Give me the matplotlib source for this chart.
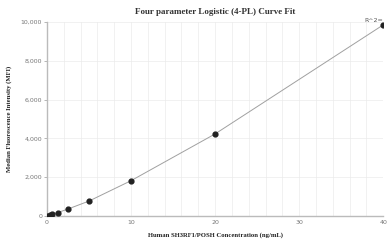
import numpy as np
import matplotlib
matplotlib.use('Agg')
import matplotlib.pyplot as plt
from matplotlib.ticker import MultipleLocator, FuncFormatter

# standard curve points
conc = [0, 0.3125, 0.625, 1.25, 2.5, 5, 10, 20, 40]
mfi = [15, 45, 90, 170, 360, 770, 1820, 4230, 9850]

title = 'Four parameter Logistic (4-PL) Curve Fit'
xlabel = 'Human SH3RF1/POSH Concentration (ng/mL)'
ylabel = 'Median Fluorescence Intensity (MFI)'

fig = plt.figure(figsize=(3.9, 2.44), dpi=100)
ax = fig.add_axes([0.1205, 0.1148, 0.862, 0.795])

ax.plot(conc, mfi, color='#a0a0a0', lw=0.7, zorder=2)
ax.scatter(conc, mfi, s=12, color='#222222', zorder=3)
ax.text(40, 9950, 'R^2=', fontsize=4.5, color='#555555', ha='right', va='bottom',
        family='DejaVu Sans')

ax.set_xlim(0, 40)
ax.set_ylim(0, 10000)
ax.xaxis.set_major_locator(MultipleLocator(10))
ax.xaxis.set_minor_locator(MultipleLocator(2))
ax.yaxis.set_major_locator(MultipleLocator(2000))
ax.yaxis.set_major_formatter(FuncFormatter(lambda v, p: '{:,.0f}'.format(v)))
ax.grid(which='both', color='#ebebeb', lw=0.5)
ax.set_axisbelow(True)

for s in ['top', 'right']:
    ax.spines[s].set_visible(False)
for s in ['left', 'bottom']:
    ax.spines[s].set_color('#bbbbbb')
    ax.spines[s].set_linewidth(1.0)

ax.tick_params(axis='both', which='major', labelsize=4.5, labelcolor='#777777',
               color='#999999', length=2, width=0.5, pad=1.5)
ax.tick_params(axis='both', which='minor', length=0)
ax.tick_params(axis='x', length=0, pad=3)

ax.set_title(title, fontsize=6.5, fontweight='bold', family='Liberation Serif',
             color='#333333', pad=6)
ax.set_xlabel(xlabel, fontsize=4.8, fontweight='bold', family='Liberation Serif',
              color='#222222', labelpad=5)
ax.set_ylabel(ylabel, fontsize=4.8, fontweight='bold', family='Liberation Serif',
              color='#222222', labelpad=6)

fig.savefig('out.png', dpi=100)
